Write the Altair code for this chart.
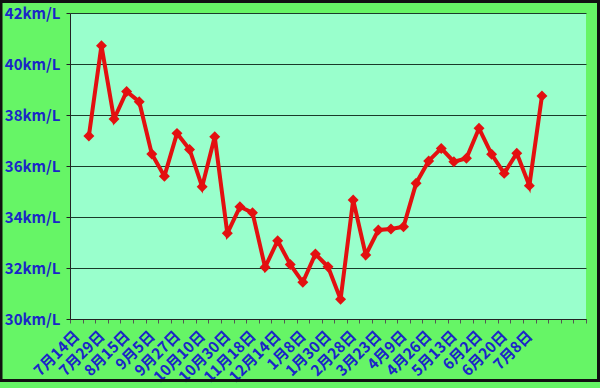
import altair as alt
import pandas as pd

# every other category label (categories 0, 2, 4, ... 36)
date_labels = ["7月14日", "7月29日", "8月15日", "9月5日", "9月27日", "10月10日",
               "10月30日", "11月18日", "12月14日", "1月8日", "1月30日", "2月28日",
               "3月23日", "4月9日", "4月26日", "5月13日", "6月2日", "6月20日", "7月8日"]
n_categories = 41
# km/L for categories 1..37 (category 0 = first fill-up, no value)
km_per_l = [37.18, 40.72, 37.84, 38.92, 38.52, 36.47, 35.60, 37.28, 36.65, 35.19,
            37.15, 33.36, 34.40, 34.17, 32.03, 33.07, 32.14, 31.44, 32.55, 32.05,
            30.77, 34.67, 32.51, 33.49, 33.53, 33.62, 35.32, 36.20, 36.69, 36.17,
            36.30, 37.48, 36.46, 35.71, 36.50, 35.23, 38.75]

df = pd.DataFrame({"idx": list(range(1, 1 + len(km_per_l))), "v": km_per_l})

label_arr = "[" + ",".join("'" + s + "'" for s in date_labels) + "]"
x_label_expr = f"datum.value % 2 == 0 ? {label_arr}[datum.value / 2] : ''"

FONT = "Noto Sans CJK JP"
BLUE = "#1a25c8"
RED = "#e31010"

x_enc = alt.X(
    "idx:O",
    scale=alt.Scale(domain=list(range(n_categories)), paddingInner=0, paddingOuter=0),
    axis=alt.Axis(
        title=None,
        labelExpr=x_label_expr,
        labelAngle=-45,
        labelAlign="right",
        labelBaseline="middle",
        labelFont=FONT,
        labelFontSize=15,
        labelFontWeight="bold",
        labelColor=BLUE,
        labelPadding=10,
        labelOverlap=False,
        labelBound=False,
        tickBand="extent",
        tickSize=4,
        tickColor="#555555",
        domainColor="#222222",
        domainWidth=1,
        grid=False,
    ),
)
y_enc = alt.Y(
    "v:Q",
    scale=alt.Scale(domain=[30, 42], nice=False, zero=False),
    axis=alt.Axis(
        title=None,
        values=[30, 32, 34, 36, 38, 40, 42],
        labelExpr="datum.value + 'km/L'",
        labelFont=FONT,
        labelFontSize=15,
        labelFontWeight="bold",
        labelColor=BLUE,
        labelPadding=6,
        tickSize=4,
        tickColor="#222222",
        domainColor="#222222",
        gridColor="#1a3a2a",
        gridWidth=1,
        gridOpacity=1,
    ),
)

line = alt.Chart(df).mark_line(color=RED, strokeWidth=4).encode(x=x_enc, y=y_enc)
pts = alt.Chart(df).mark_point(shape="diamond", filled=True, size=120, color=RED, opacity=1).encode(x=x_enc, y=y_enc)

frame = alt.Chart(pd.DataFrame({"a": [0]})).mark_rect(
    fill=None, stroke="#111111", strokeWidth=3, clip=False
).encode(x=alt.value(-69), x2=alt.value(528.5), y=alt.value(-11.5), y2=alt.value(367.5))

chart = alt.layer(line, pts, frame).properties(
    width=516, height=306,
    padding={"left": 70, "top": 13, "right": 14, "bottom": 69},
    autosize=alt.AutoSizeParams(type="none"),
    background="#66f566",
).configure_view(fill="#99ffcc", stroke=None)

chart.save("out.html", embed_options={"renderer": "svg", "actions": False})
